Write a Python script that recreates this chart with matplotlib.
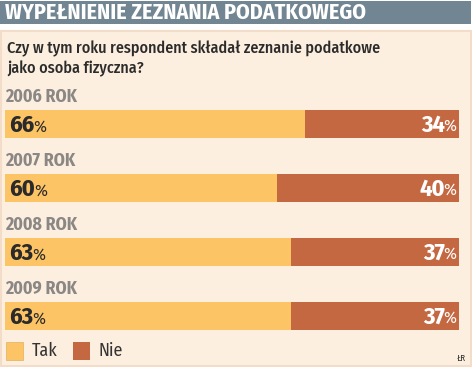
import matplotlib
matplotlib.use("Agg")
import matplotlib.pyplot as plt
from matplotlib.patches import Rectangle

years = ["2006 ROK", "2007 ROK", "2008 ROK", "2009 ROK"]
tak = [66, 60, 63, 63]
nie = [34, 40, 37, 37]
labels = ["Tak", "Nie"]

c_tak = "#fdc466"
c_nie = "#c46842"
c_bg = "#fdefdf"
c_head = "#718692"

plt.rcParams['font.family'] = ['Fira Sans Condensed', 'PT Sans Narrow', 'Roboto Condensed', 'DejaVu Sans']

W, H = 472, 367
fig = plt.figure(figsize=(W / 100, H / 100), dpi=100)
fig.patch.set_facecolor("white")

def fx(x):
    return x / W

def fy(y):
    return 1 - y / H

# header band and peach panel (behind the axes)
fig.patches.append(Rectangle((0, fy(24)), fx(471), 23 / H, transform=fig.transFigure,
                             facecolor=c_head, edgecolor="none", zorder=-2))
fig.patches.append(Rectangle((fx(0.5), fy(366)), fx(470), 335 / H, transform=fig.transFigure,
                             facecolor=c_bg, edgecolor="#f3dcc8", linewidth=1.5, zorder=-2))
fig.text(fx(5), fy(13), "WYPEŁNIENIE ZEZNANIA PODATKOWEGO", color="white",
         fontsize=15.8, fontweight="bold", va="center", ha="left")
fig.text(fx(7), fy(59), "Czy w tym roku respondent składał zeznanie podatkowe\njako osoba fizyczna?",
         color="#2b2b2b", fontsize=11.6, fontweight=500, va="center", ha="left", linespacing=1.25)

# one thin axes per year, bars drawn from the data
bar_tops = [110, 174, 238, 302]
bar_h = 28
for i, yr in enumerate(years):
    top = bar_tops[i]
    ax = fig.add_axes([fx(5), fy(top + bar_h), fx(454), bar_h / H])
    ax.barh([0], [tak[i]], color=c_tak, height=1, align="edge")
    ax.barh([0], [nie[i]], left=[tak[i]], color=c_nie, height=1, align="edge")
    ax.set_xlim(0, 100)
    ax.set_ylim(0, 1)
    ax.axis("off")
    t = ax.text(0.9, 0.45, f"{tak[i]}", fontsize=17.5, fontweight="bold", color="#2a2a2a",
                va="center", ha="left")
    ax.annotate("%", xy=(1, 0), xycoords=t, xytext=(-0.5, 1.2), textcoords="offset points",
                fontsize=12.5, color="#2a2a2a", va="bottom", ha="left")
    p = ax.text(99.5, 0.42, "%", fontsize=12.5, color="white", va="center", ha="right")
    ax.annotate(f"{nie[i]}", xy=(0, 0.5), xycoords=p, xytext=(1, 1), textcoords="offset points",
                fontsize=17.5, fontweight="bold", color="white", va="center", ha="right")
    fig.text(fx(5), fy(top - 13), yr, fontsize=12.8, fontweight="bold", color="#8a8785",
             va="center", ha="left")

# legend
fig.patches.append(Rectangle((fx(6), fy(360)), fx(17), 18 / H, transform=fig.transFigure,
                             facecolor=c_tak, edgecolor="#e0b060", linewidth=0.5))
fig.text(fx(32), fy(351), labels[0], fontsize=13, color="#333333", va="center")
fig.patches.append(Rectangle((fx(73), fy(360)), fx(17), 18 / H, transform=fig.transFigure,
                             facecolor=c_nie, edgecolor="none"))
fig.text(fx(98), fy(351), labels[1], fontsize=13, color="#333333", va="center")
fig.text(fx(466), fy(358), "ŁR", fontsize=6.5, color="#333333", va="center", ha="right")

fig.savefig("out.png", dpi=100)
